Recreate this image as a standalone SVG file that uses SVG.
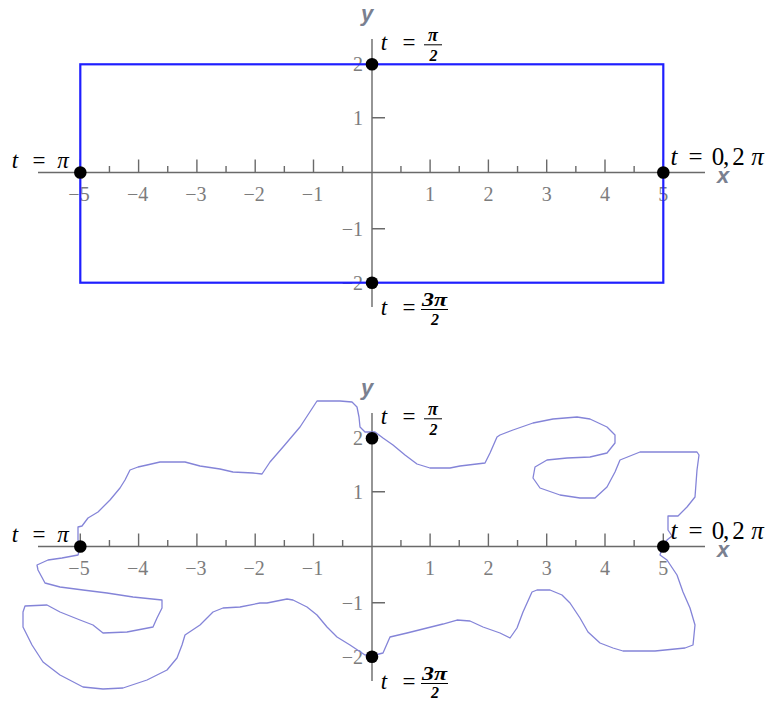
<svg xmlns="http://www.w3.org/2000/svg" width="779" height="702" viewBox="0 0 779 702">
<style>
.ax{stroke:#6a6a6a;stroke-width:1.4;fill:none}
.tk{font-family:'Liberation Serif','DejaVu Serif',serif;font-size:20px;fill:#7c7c7c;text-anchor:middle}
.tky{font-family:'Liberation Serif','DejaVu Serif',serif;font-size:20px;fill:#7c7c7c;text-anchor:end}
.axl{font-family:'Liberation Sans','DejaVu Sans',sans-serif;font-weight:bold;font-style:italic;font-size:22px;fill:#7a8090}
.lb{font-family:'Liberation Serif','DejaVu Serif',serif;font-size:23px;fill:#000;text-anchor:middle}
.it{font-style:italic}
.fr{font-family:'Liberation Serif','DejaVu Serif',serif;font-size:18px;font-weight:bold;font-style:italic;fill:#000;text-anchor:middle}
.frd{font-family:'Liberation Serif','DejaVu Serif',serif;font-size:16px;font-weight:bold;font-style:italic;fill:#000;text-anchor:middle}
.bar{stroke:#000;stroke-width:1}
.dot{fill:#000}
.rect{fill:none;stroke:#1f1fff;stroke-width:2.2}
.curve{fill:none;stroke:#8484d8;stroke-width:1.3;stroke-linejoin:round}
</style>

<g id="plot-top">
  <g id="axes-top">
    <path class="ax" d="M38,172.5H705M372,39V307"/>
    <path class="ax" d="M80.3,159.5V172.5M138.6,159.5V172.5M196.9,159.5V172.5M255.2,159.5V172.5M313.5,159.5V172.5M430.1,159.5V172.5M488.4,159.5V172.5M546.7,159.5V172.5M605,159.5V172.5M663.3,159.5V172.5
      M109.45,166V172.5M167.75,166V172.5M226.05,166V172.5M284.35,166V172.5M342.65,166V172.5M400.95,166V172.5M459.25,166V172.5M517.55,166V172.5M575.85,166V172.5M634.15,166V172.5
      M372,117.7H385M372,228.7H385"/>
    <text class="tk" x="79" y="201">−5</text>
    <text class="tk" x="137.6" y="201">−4</text>
    <text class="tk" x="195.9" y="201">−3</text>
    <text class="tk" x="254.2" y="201">−2</text>
    <text class="tk" x="312.5" y="201">−1</text>
    <text class="tk" x="430.1" y="201">1</text>
    <text class="tk" x="488.4" y="201">2</text>
    <text class="tk" x="546.7" y="201">3</text>
    <text class="tk" x="605" y="201">4</text>
    <text class="tk" x="663.3" y="201">5</text>
    <text class="tky" x="363" y="71">2</text>
    <text class="tky" x="363" y="124.5">1</text>
    <text class="tky" x="363" y="235.5">−1</text>
    <text class="tky" x="363" y="289.5">−2</text>
    <text class="axl" x="361" y="21">y</text>
    <text class="axl" x="717" y="183">x</text>
  </g>
  <rect class="rect" x="80.3" y="64.3" width="583" height="218.4"/>
  <g id="points-top">
    <circle class="dot" cx="80.3" cy="172.5" r="6.3"/>
    <circle class="dot" cx="663.3" cy="172.5" r="6.3"/>
    <circle class="dot" cx="372" cy="64.3" r="6.3"/>
    <circle class="dot" cx="372" cy="282.7" r="6.3"/>
  </g>
  <g id="labels-top">
    <text class="lb it" x="15" y="168">t</text>
    <text class="lb" x="39" y="168">=</text>
    <text class="lb it" x="63" y="168">π</text>

    <text class="lb it" x="384" y="50">t</text>
    <text class="lb" x="409" y="50">=</text>
    <text class="fr" x="433" y="41">π</text>
    <line class="bar" x1="424" y1="44.8" x2="442" y2="44.8"/>
    <text class="frd" x="433.5" y="61">2</text>

    <text class="lb it" x="384" y="315">t</text>
    <text class="lb" x="409" y="315">=</text>
    <text class="fr" x="434.5" y="306" textLength="25" lengthAdjust="spacingAndGlyphs">3π</text>
    <line class="bar" x1="421" y1="309.5" x2="448" y2="309.5"/>
    <text class="frd" x="435" y="325">2</text>

    <text class="lb it" x="674" y="165" style="font-size:25px">t</text>
    <text class="lb" x="695.5" y="165" style="font-size:25px">=</text>
    <text class="lb" x="718" y="165" style="font-size:25px">0</text>
    <text class="lb" x="726" y="165" style="font-size:25px">,</text>
    <text class="lb" x="738.5" y="165" style="font-size:25px">2</text>
    <text class="lb it" x="757.5" y="165" style="font-size:25px">π</text>
  </g>
</g>

<g id="plot-bottom">
  <g id="axes-bottom" transform="translate(0,374)">
    <path class="ax" d="M38,172.5H705M372,39V307"/>
    <path class="ax" d="M80.3,159.5V172.5M138.6,159.5V172.5M196.9,159.5V172.5M255.2,159.5V172.5M313.5,159.5V172.5M430.1,159.5V172.5M488.4,159.5V172.5M546.7,159.5V172.5M605,159.5V172.5M663.3,159.5V172.5
      M109.45,166V172.5M167.75,166V172.5M226.05,166V172.5M284.35,166V172.5M342.65,166V172.5M400.95,166V172.5M459.25,166V172.5M517.55,166V172.5M575.85,166V172.5M634.15,166V172.5
      M372,117.7H385M372,228.7H385"/>
    <text class="tk" x="79" y="201">−5</text>
    <text class="tk" x="137.6" y="201">−4</text>
    <text class="tk" x="195.9" y="201">−3</text>
    <text class="tk" x="254.2" y="201">−2</text>
    <text class="tk" x="312.5" y="201">−1</text>
    <text class="tk" x="430.1" y="201">1</text>
    <text class="tk" x="488.4" y="201">2</text>
    <text class="tk" x="546.7" y="201">3</text>
    <text class="tk" x="605" y="201">4</text>
    <text class="tk" x="663.3" y="201">5</text>
    <text class="tky" x="363" y="71">2</text>
    <text class="tky" x="363" y="124.5">1</text>
    <text class="tky" x="363" y="235.5">−1</text>
    <text class="tky" x="363" y="289.5">−2</text>
    <text class="axl" x="361" y="21">y</text>
    <text class="axl" x="717" y="183">x</text>
  </g>
  <path class="curve" d="M663,546 L667,540 L672,536 L668,530 L668,516 L678,516 L687,507 L695,497 L697,470 L699,455 L697,452 L640,452 L620,460 L615,472 L607,487 L595,498 L580,498 L560,495 L540,488 L533,478 L535,467 L547,460 L567,458 L590,457 L607,453 L615,443 L615,435 L607,427 L590,419 L577,417 L553,419 L533,423 L513,430 L500,435 L497,437 L490,453 L485,463 L460,466 L450,468 L430,468 L417,464 L405,455 L393,445 L383,438 L375,432 L365,432 L360,427 L359,417 L357,407 L352,402 L340,401 L317,401 L300,427 L283,447 L270,462 L262,474 L253,473 L233,472 L220,469 L200,466 L185,462 L160,462 L147,465 L138,467 L130,470 L125,480 L120,488 L110,500 L98,512 L88,518 L82,526 L78,527 L78,540 L80,548 L78,555 L62,558 L48,560 L37,565 L38,570 L45,583 L60,587 L83,590 L107,593 L133,597 L162,600 L162,608 L157,618 L153,627 L127,632 L103,633 L93,625 L80,620 L60,612 L47,605 L25,606 L23,612 L23,627 L32,645 L43,662 L60,675 L83,687 L103,689 L123,688 L147,680 L167,670 L177,658 L182,645 L185,635 L200,625 L213,612 L223,608 L240,607 L260,603 L267,603 L287,599 L293,600 L307,607 L317,615 L327,627 L337,637 L350,645 L365,655 L375,655 L383,653 L390,637 L407,633 L427,628 L443,624 L457,620 L470,621 L483,627 L500,633 L510,638 L517,628 L523,612 L532,592 L537,590 L550,590 L562,595 L570,603 L580,618 L588,632 L600,643 L613,648 L623,651 L655,651 L685,648 L693,645 L695,625 L690,608 L683,592 L677,575 L667,560 L660,555 Z"/>
  <g id="points-bottom">
    <circle class="dot" cx="80.3" cy="546.5" r="6.3"/>
    <circle class="dot" cx="663.3" cy="546.5" r="6.3"/>
    <circle class="dot" cx="372" cy="438.3" r="6.3"/>
    <circle class="dot" cx="372" cy="656.7" r="6.3"/>
  </g>
  <g id="labels-bottom" transform="translate(0,374)">
    <text class="lb it" x="15" y="168">t</text>
    <text class="lb" x="39" y="168">=</text>
    <text class="lb it" x="63" y="168">π</text>

    <text class="lb it" x="384" y="50">t</text>
    <text class="lb" x="409" y="50">=</text>
    <text class="fr" x="433" y="41">π</text>
    <line class="bar" x1="424" y1="44.8" x2="442" y2="44.8"/>
    <text class="frd" x="433.5" y="61">2</text>

    <text class="lb it" x="384" y="315">t</text>
    <text class="lb" x="409" y="315">=</text>
    <text class="fr" x="434.5" y="306" textLength="25" lengthAdjust="spacingAndGlyphs">3π</text>
    <line class="bar" x1="421" y1="309.5" x2="448" y2="309.5"/>
    <text class="frd" x="435" y="324">2</text>

    <text class="lb it" x="674" y="165" style="font-size:25px">t</text>
    <text class="lb" x="695.5" y="165" style="font-size:25px">=</text>
    <text class="lb" x="718" y="165" style="font-size:25px">0</text>
    <text class="lb" x="726" y="165" style="font-size:25px">,</text>
    <text class="lb" x="738.5" y="165" style="font-size:25px">2</text>
    <text class="lb it" x="757.5" y="165" style="font-size:25px">π</text>
  </g>
</g>
</svg>
